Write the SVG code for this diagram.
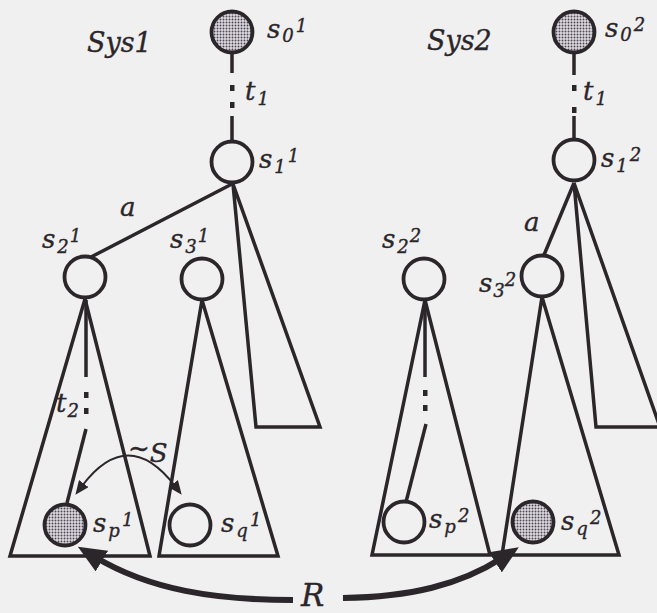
<svg xmlns="http://www.w3.org/2000/svg" width="657" height="613" viewBox="0 0 657 613">
<style>
.bg{fill:#f0f0f1}
.ln{fill:none;stroke:#2b2629;stroke-width:3.5;stroke-linejoin:miter}
.st{fill:#f0f0f1;stroke:#2b2629;stroke-width:3.8}
.fi{fill:url(#dots);stroke:#2b2629;stroke-width:3.8}
.dot{fill:#2b2629}
text{font-family:"DejaVu Serif","Liberation Serif",serif;font-style:italic;fill:#2b2629;stroke:#2b2629;stroke-width:0.35}
.lb{font-size:26px}
.sm{font-size:18px}
.big{font-size:27px}
.arc{fill:none;stroke:#2b2629;stroke-width:2}
.rarr{fill:none;stroke:#2b2629;stroke-width:6}
</style>
<defs>
<pattern id="dots" width="3" height="3" patternUnits="userSpaceOnUse">
<rect width="3" height="3" fill="#dcd9df"/>
<circle cx="1.5" cy="1.5" r="0.95" fill="#4e4555"/>
</pattern>
<marker id="ah" markerUnits="userSpaceOnUse" markerWidth="14" markerHeight="12" refX="3" refY="6" orient="auto-start-reverse">
<path d="M0,0 L14,6 L0,12 z" fill="#2b2629"/>
</marker>
<marker id="bh" markerUnits="userSpaceOnUse" markerWidth="28" markerHeight="24" refX="8" refY="12" orient="auto">
<path d="M0,0 L28,12 L0,24 z" fill="#2b2629"/>
</marker>
</defs>
<rect class="bg" width="657" height="613"/>

<g id="connectors">
<!-- Sys1 t1 -->
<line class="ln" x1="232" y1="54" x2="232" y2="73"/>
<rect class="dot" x="230" y="85" width="4.5" height="6"/>
<rect class="dot" x="230" y="102" width="4.5" height="6"/>
<line class="ln" x1="232" y1="116" x2="232" y2="141"/>
<!-- Sys1 a -->
<line class="ln" x1="232" y1="184" x2="91" y2="257"/>
<!-- Sys1 s1 triangle -->
<path class="ln" d="M233,184 L256,427 L320,427 Z"/>
<!-- Sys1 s2 triangle -->
<path class="ln" d="M85,299 L10,556 L150,556 Z"/>
<!-- Sys1 s3 triangle -->
<path class="ln" d="M202,300 L159,556 L278,556 Z"/>
<!-- Sys1 t2 -->
<line class="ln" x1="86" y1="300" x2="86" y2="377"/>
<rect class="dot" x="84" y="392" width="4.5" height="6"/>
<rect class="dot" x="84" y="408" width="4.5" height="6"/>
<line class="ln" x1="86" y1="429" x2="67" y2="503"/>
<!-- ~S -->
<path class="arc" d="M82,486 Q128,425 175,486" marker-start="url(#ah)" marker-end="url(#ah)"/>

<!-- Sys2 t1 -->
<line class="ln" x1="574" y1="53" x2="574" y2="75"/>
<rect class="dot" x="572" y="85" width="4.5" height="6"/>
<rect class="dot" x="572" y="107" width="4.5" height="6"/>
<line class="ln" x1="574" y1="116" x2="574" y2="139"/>
<!-- Sys2 a -->
<line class="ln" x1="574" y1="183" x2="544" y2="255"/>
<!-- Sys2 s1 triangle -->
<path class="ln" d="M574,183 L596,427 L660,427 Z"/>
<!-- Sys2 s2 triangle -->
<path class="ln" d="M425,300 L372,555 L490,555 Z"/>
<!-- Sys2 s3 triangle -->
<path class="ln" d="M542,297 L502,555 L619,555 Z"/>
<!-- Sys2 dashed -->
<line class="ln" x1="425" y1="300" x2="425" y2="377"/>
<rect class="dot" x="423" y="390" width="4.5" height="6"/>
<rect class="dot" x="423" y="405" width="4.5" height="6"/>
<line class="ln" x1="426" y1="424" x2="406" y2="502"/>

<!-- R arrows -->
<path class="rarr" d="M293,600 C215,600 150,590 95,557" marker-end="url(#bh)"/>
<path class="rarr" d="M343,598 C410,597 460,585 502,558" marker-end="url(#bh)"/>
</g>

<!-- Sys1 nodes -->
<g id="s0_1"><circle class="fi" cx="232" cy="32" r="20.5"/><text class="lb" x="267" y="38">s<tspan class="sm" dx="2" dy="4">0</tspan><tspan class="sm" dx="2" dy="-10">1</tspan></text></g>
<g id="s1_1"><circle class="st" cx="232" cy="162" r="20.5"/><text class="lb" x="259" y="168">s<tspan class="sm" dx="2" dy="5">1</tspan><tspan class="sm" dx="2" dy="-11">1</tspan></text></g>
<g id="s2_1"><circle class="st" cx="85" cy="277" r="20.5"/><text class="lb" x="42" y="248">s<tspan class="sm" dx="2" dy="5">2</tspan><tspan class="sm" dx="1" dy="-11">1</tspan></text></g>
<g id="s3_1"><circle class="st" cx="202" cy="279" r="20.5"/><text class="lb" x="170" y="248">s<tspan class="sm" dx="2" dy="5">3</tspan><tspan class="sm" dx="1" dy="-11">1</tspan></text></g>
<g id="sp_1"><circle class="fi" cx="65" cy="525" r="20.5"/><text class="lb" x="93" y="532">s<tspan class="sm" dx="2" dy="5">p</tspan><tspan class="sm" dx="2" dy="-11">1</tspan></text></g>
<g id="sq_1"><circle class="st" cx="190" cy="525" r="20.5"/><text class="lb" x="221" y="532">s<tspan class="sm" dx="2" dy="5">q</tspan><tspan class="sm" dx="2" dy="-11">1</tspan></text></g>

<!-- Sys2 nodes -->
<g id="s0_2"><circle class="fi" cx="574" cy="32" r="20.5"/><text class="lb" x="605" y="37">s<tspan class="sm" dx="2" dy="4">0</tspan><tspan class="sm" dx="2" dy="-10">2</tspan></text></g>
<g id="s1_2"><circle class="st" cx="574" cy="160" r="20.5"/><text class="lb" x="601" y="167">s<tspan class="sm" dx="2" dy="5">1</tspan><tspan class="sm" dx="2" dy="-11">2</tspan></text></g>
<g id="s2_2"><circle class="st" cx="424" cy="279" r="20.5"/><text class="lb" x="382" y="248">s<tspan class="sm" dx="2" dy="5">2</tspan><tspan class="sm" dx="1" dy="-11">2</tspan></text></g>
<g id="s3_2"><circle class="st" cx="542" cy="276" r="20.5"/><text class="lb" x="479" y="292">s<tspan class="sm" dx="1" dy="5">3</tspan><tspan class="sm" dx="0" dy="-11">2</tspan></text></g>
<g id="sp_2"><circle class="st" cx="404" cy="522" r="20.5"/><text class="lb" x="429" y="528">s<tspan class="sm" dx="2" dy="5">p</tspan><tspan class="sm" dx="2" dy="-11">2</tspan></text></g>
<g id="sq_2"><circle class="fi" cx="533" cy="522" r="20.5"/><text class="lb" x="561" y="530">s<tspan class="sm" dx="2" dy="5">q</tspan><tspan class="sm" dx="2" dy="-11">2</tspan></text></g>

<!-- labels -->
<g id="labels">
<text class="big" x="87" y="52">Sys1</text>
<text class="big" x="427" y="50">Sys2</text>
<text class="lb" x="245" y="100">t<tspan class="sm" dx="2" dy="5">1</tspan></text>
<text class="lb" x="583" y="100">t<tspan class="sm" dx="2" dy="5">1</tspan></text>
<text class="lb" x="120" y="216">a</text>
<text class="lb" x="524" y="231">a</text>
<text class="lb" x="56" y="412">t<tspan class="sm" dx="1" dy="5">2</tspan></text>
<text class="lb" x="128" y="462"><tspan dy="-5">~</tspan><tspan dy="5">S</tspan></text>
<text x="301" y="606" style="font-size:31px">R</text>
</g>
</svg>
